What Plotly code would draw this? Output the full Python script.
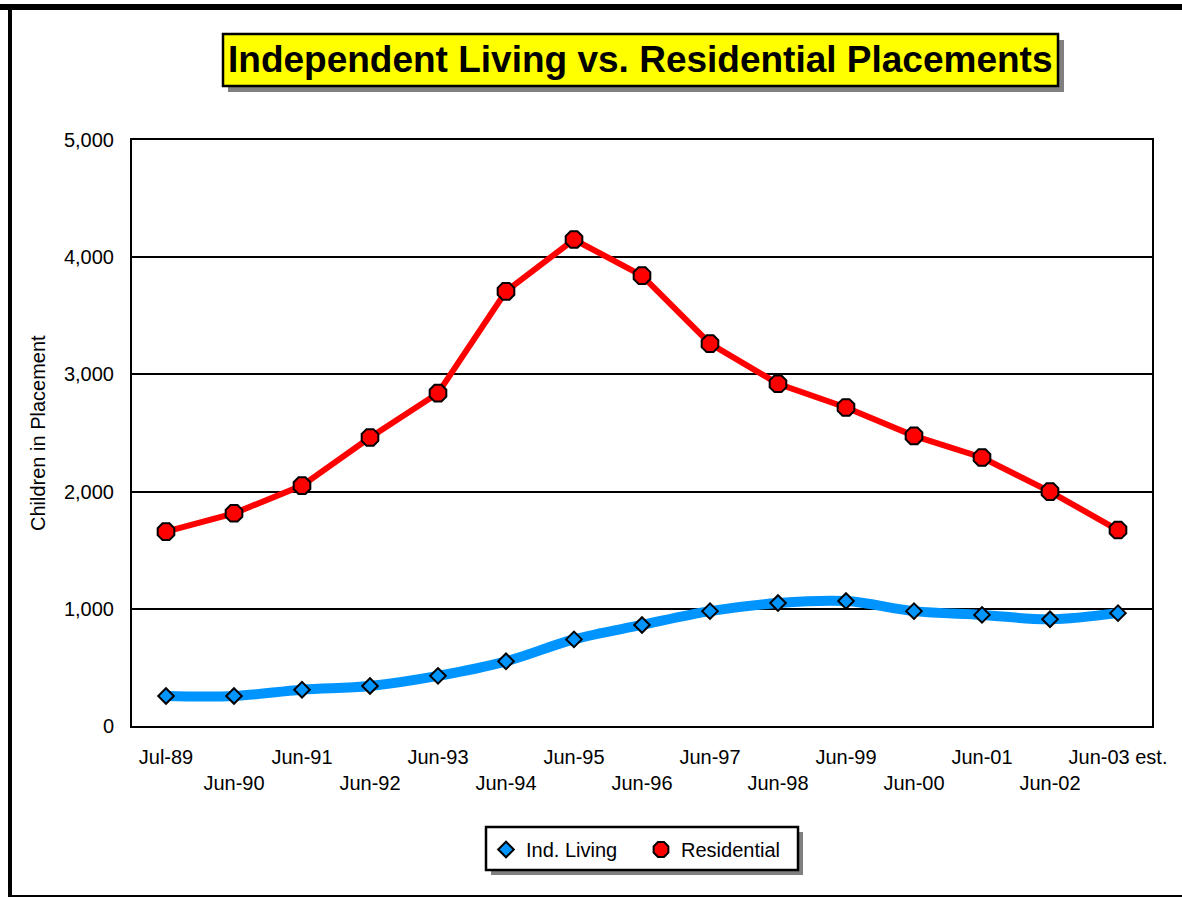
import plotly.graph_objects as go

# ---- data ----
categories = ["Jul-89", "Jun-90", "Jun-91", "Jun-92", "Jun-93", "Jun-94", "Jun-95",
              "Jun-96", "Jun-97", "Jun-98", "Jun-99", "Jun-00", "Jun-01", "Jun-02",
              "Jun-03 est."]
ind_living = [256, 256, 310, 342, 428, 552, 739, 862, 980, 1049, 1066, 980, 948, 911, 963]
residential = [1658, 1815, 2051, 2462, 2840, 3709, 4151, 3843, 3262, 2920, 2718, 2476, 2291, 2000, 1672]
y_ticks = [0, 1000, 2000, 3000, 4000, 5000]
y_tick_labels = ["0", "1,000", "2,000", "3,000", "4,000", "5,000"]

# ---- layout geometry (pixels) ----
W, H = 1182, 897
L, R, T, B = 132, 30, 140, 171
PW, PH = W - L - R, H - T - B
FONT = "Liberation Sans, Arial, sans-serif"


def px_x(x):
    return (x - L) / PW


def px_y(y):
    return (H - B - y) / PH


def rect(x0, y0, x1, y1, fill, line_color=None, line_width=0):
    return dict(type="rect", xref="paper", yref="paper",
                x0=px_x(x0), x1=px_x(x1), y0=px_y(y1), y1=px_y(y0),
                fillcolor=fill, layer="above",
                line=dict(color=line_color or fill, width=line_width))


BLUE = "#0094FF"
RED = "#FF0000"

# alternate tick labels onto two rows
tick_text = [c if i % 2 == 0 else "<br>" + c for i, c in enumerate(categories)]

fig = go.Figure()
fig.add_trace(go.Scatter(
    x=categories, y=ind_living, mode="lines+markers", showlegend=False,
    line=dict(color=BLUE, width=10, shape="spline", smoothing=1.0),
    marker=dict(symbol="diamond", size=12, color=BLUE, line=dict(color="black", width=2)),
))
fig.add_trace(go.Scatter(
    x=categories, y=residential, mode="lines+markers", showlegend=False,
    line=dict(color=RED, width=6),
    marker=dict(symbol="octagon", size=18, color=RED, line=dict(color="black", width=2)),
))
# legend entries (markers only)
fig.add_trace(go.Scatter(
    x=[None], y=[None], mode="markers", name="Ind. Living",
    marker=dict(symbol="diamond", size=12, color=BLUE, line=dict(color="black", width=2)),
))
fig.add_trace(go.Scatter(
    x=[None], y=[None], mode="markers", name="Residential",
    marker=dict(symbol="octagon", size=16, color=RED, line=dict(color="black", width=2)),
))

shapes = [
    # outer frame
    rect(0, 4, W, 10, "black"),
    rect(8, 4, 12, H, "black"),
    rect(8, 895, W, 897, "black"),
    # title box + shadow
    rect(228, 40, 1064, 92, "#808080"),
    rect(223, 34, 1058, 86, "#FFFF00", "black", 2.5),
    # legend box + shadow
    rect(491, 832, 803, 875, "#808080"),
    rect(486, 827, 798, 870, "white", "black", 2.5),
]

fig.update_layout(
    width=W, height=H,
    margin=dict(l=L, r=R, t=T, b=B),
    paper_bgcolor="white", plot_bgcolor="white",
    font=dict(family=FONT, size=20, color="black"),
    shapes=shapes,
    showlegend=True,
    legend=dict(orientation="h", x=px_x(486), y=px_y(830), xanchor="left", yanchor="top",
                bgcolor="rgba(0,0,0,0)", borderwidth=0, font=dict(size=20, family=FONT),
                entrywidth=110, entrywidthmode="pixels"),
    annotations=[
        dict(text="<b>Independent Living vs. Residential Placements</b>",
             xref="paper", yref="paper", x=px_x(640.5), y=px_y(60),
             xanchor="center", yanchor="middle", showarrow=False,
             font=dict(family=FONT, size=37, color="black")),
        dict(text="Children in Placement", textangle=-90,
             xref="paper", yref="paper", x=px_x(38), y=0.5,
             xanchor="center", yanchor="middle", showarrow=False,
             font=dict(family=FONT, size=20, color="black")),
    ],
)

fig.update_xaxes(
    type="category", categoryorder="array", categoryarray=categories,
    tickmode="array", tickvals=categories, ticktext=tick_text,
    range=[-0.5, len(categories) - 0.5],
    showline=True, linecolor="black", linewidth=2, mirror=True,
    showgrid=False, ticks="", ticklabelstandoff=12, tickangle=0,
    tickfont=dict(family=FONT, size=20, color="black"),
)
fig.update_yaxes(
    range=[0, 5000], tickmode="array", tickvals=y_ticks, ticktext=y_tick_labels,
    showline=True, linecolor="black", linewidth=2, mirror=True,
    showgrid=True, gridcolor="black", gridwidth=2, zeroline=False,
    ticks="", ticklabelstandoff=12,
    tickfont=dict(family=FONT, size=20, color="black"),
)

fig.write_html("out.html", config={"displayModeBar": False},
               post_script="document.body.style.margin='0';document.body.style.overflow='hidden';")
